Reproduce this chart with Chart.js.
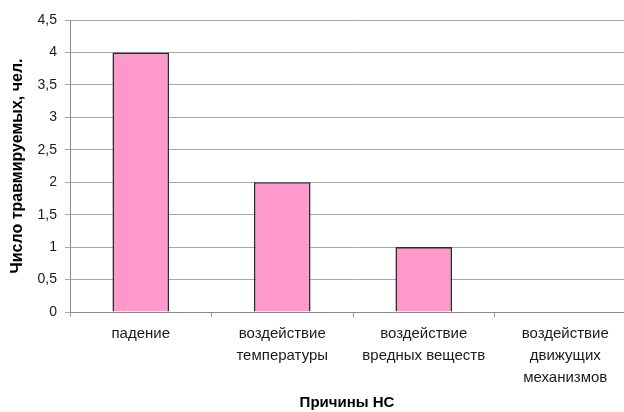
<!DOCTYPE html>
<html>
<head>
<meta charset="utf-8">
<script src="https://cdn.jsdelivr.net/npm/chart.js@4/dist/chart.umd.min.js"></script>
<style>
  html, body { margin: 0; padding: 0; background: #fff; overflow: hidden; }
  #wrap { position: relative; width: 636px; height: 412px; }
</style>
</head>
<body>
<div id="wrap"><canvas id="chart"></canvas></div>
<script>
// Причины несчастных случаев и число травмированных
const categories = [
  ['падение'],
  ['воздействие', 'температуры'],
  ['воздействие', 'вредных веществ'],
  ['воздействие', 'движущих', 'механизмов']
];
const injured = [4, 2, 1, 0];
const yTitle = 'Число травмируемых, чел.';
const xTitle = 'Причины НС';

const FONT = "'Liberation Sans', Arial, sans-serif";
const VIEW_WIDTH = 624;

// x-axis title, centred on the part of the plot that is visible in the window
const xTitlePlugin = {
  id: 'xTitle',
  afterDraw(chart) {
    const { ctx, chartArea } = chart;
    const right = Math.min(chartArea.right, VIEW_WIDTH);
    ctx.save();
    ctx.font = `bold 15px ${FONT}`;
    ctx.fillStyle = '#000';
    ctx.textAlign = 'center';
    ctx.textBaseline = 'middle';
    ctx.fillText(xTitle, (chartArea.left + right) / 2, chart.height - 9);
    ctx.restore();
  }
};

new Chart(document.getElementById('chart'), {
  type: 'bar',
  data: {
    labels: categories,
    datasets: [{
      data: injured,
      backgroundColor: '#ff99cc',
      borderColor: '#2b2b2b',
      borderWidth: 1.6,
      categoryPercentage: 1,
      barPercentage: 0.4
    }]
  },
  options: {
    responsive: true,
    maintainAspectRatio: false,
    animation: false,
    layout: { padding: { left: 0, right: 0, top: 20, bottom: 0 } },
    plugins: { legend: { display: false }, tooltip: { enabled: false } },
    scales: {
      x: {
        offset: true,
        grid: { display: true, drawOnChartArea: false, color: '#9a9a9a', tickLength: 5, offset: true },
        border: { color: '#8a8a8a' },
        ticks: {
          color: '#1a1a1a',
          font: { family: FONT, size: 15, lineHeight: 1.45 },
          padding: 6,
          maxRotation: 0,
          autoSkip: false
        },
        afterFit: s => { s.height = 100; }
      },
      y: {
        min: 0,
        max: 4.5,
        grid: { color: '#a8a8a8', tickLength: 5 },
        border: { color: '#8a8a8a' },
        ticks: {
          stepSize: 0.5,
          color: '#1a1a1a',
          font: { family: FONT, size: 14 },
          padding: 8,
          callback: v => String(v).replace('.', ',')
        },
        title: {
          display: true,
          text: yTitle,
          color: '#000',
          font: { family: FONT, size: 16, weight: 'bold' },
          padding: { top: 8, bottom: 0 }
        },
        afterFit: s => { s.width = 70; }
      }
    }
  },
  plugins: [xTitlePlugin]
});
</script>
</body>
</html>
